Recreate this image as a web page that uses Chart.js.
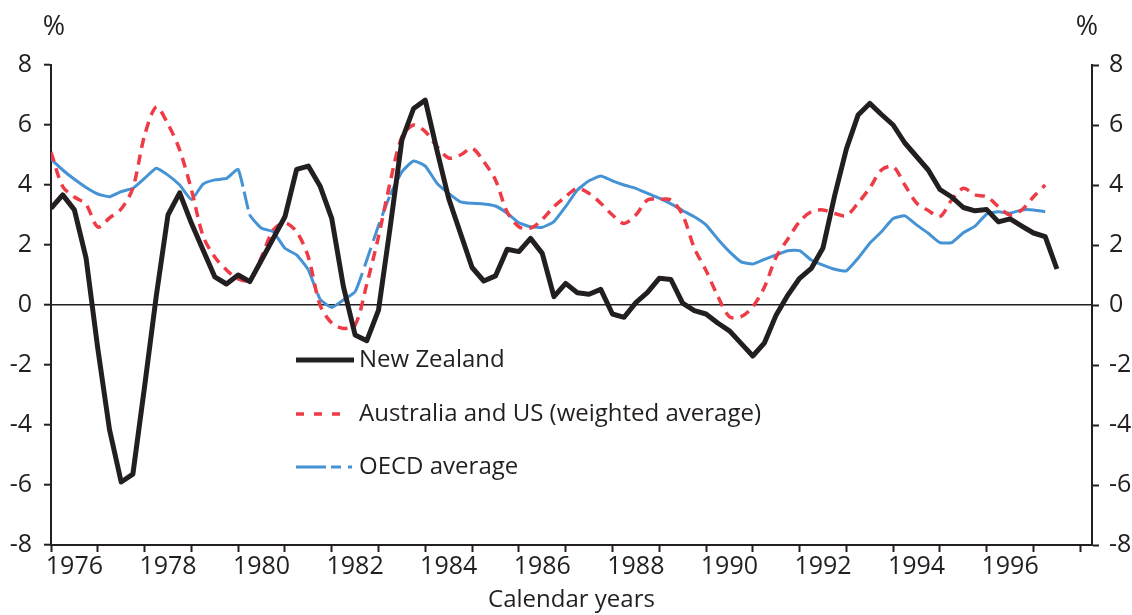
<!DOCTYPE html>
<html><head><meta charset="utf-8">
<script src="https://cdn.jsdelivr.net/npm/chart.js@4"></script>
<style>html,body{margin:0;padding:0;background:#fff;overflow:hidden}#wrap{width:1132px;height:615px}</style>
</head><body><div id="wrap"><canvas id="c" width="1132" height="615"></canvas></div>
<script>
// Quarterly observations starting 1976 Q1 (decimal years)
const firstYear = 1976;
const quarters = [];
for (let i = 0; i < 87; i++) quarters.push(firstYear + i / 4);

const seriesNames = ['New Zealand', 'Australia and US (weighted average)', 'OECD average'];

const nzValues = [
  3.22, 3.67, 3.17, 1.56,
  -1.45, -4.15, -5.9, -5.64,
  -2.72, 0.3, 3.0, 3.74,
  2.73, 1.83, 0.94, 0.7,
  1.0, 0.78, 1.5, 2.22,
  2.94, 4.52, 4.63, 3.97,
  2.89, 0.61, -1.0, -1.19,
  -0.17, 2.6, 5.5, 6.55,
  6.83, 5.15, 3.55, 2.4,
  1.25, 0.8, 0.97, 1.86,
  1.78, 2.22, 1.72, 0.28,
  0.72, 0.41, 0.36, 0.52,
  -0.3, -0.41, 0.08, 0.42,
  0.89, 0.85, 0.06, -0.19,
  -0.3, -0.6, -0.86, -1.28,
  -1.7, -1.26, -0.33, 0.33,
  0.89, 1.22, 1.9, 3.65,
  5.2, 6.33, 6.72, 6.35,
  6.0, 5.4, 4.95, 4.5,
  3.85, 3.6, 3.25, 3.14,
  3.18, 2.77, 2.87, 2.63,
  2.4, 2.28, 1.2
];

const ausUsValues = [
  5.1, 3.95, 3.6, 3.35,
  2.6, 2.9, 3.2, 3.9,
  5.65, 6.6, 6.03, 5.17,
  3.85, 2.3, 1.6, 1.17,
  0.87, 0.83, 1.6, 2.5,
  2.74, 2.44, 1.6, 0.0,
  -0.6, -0.78, -0.67, 0.7,
  2.28, 4.1, 5.6, 6.0,
  5.78, 5.28, 4.9, 5.0,
  5.22, 4.78, 4.17, 3.1,
  2.61, 2.56, 2.85, 3.28,
  3.61, 3.89, 3.72, 3.39,
  3.0, 2.72, 3.0, 3.5,
  3.52, 3.5, 3.0, 1.9,
  1.15, 0.3, -0.39, -0.39,
  -0.06, 0.6, 1.6, 2.2,
  2.78, 3.11, 3.17, 3.05,
  2.98, 3.4, 3.9, 4.5,
  4.61, 4.0, 3.4, 3.15,
  2.95, 3.5, 3.89, 3.67,
  3.61, 3.28, 3.0, 3.17,
  3.61, 4.0
];

const oecdValues = [
  4.86, 4.5, 4.19, 3.92,
  3.7, 3.61, 3.78, 3.89,
  4.22, 4.56, 4.33, 4.0,
  3.52, 4.03, 4.17, 4.22,
  4.52, 3.0, 2.56, 2.44,
  1.89, 1.67, 1.17, 0.2,
  -0.08, 0.17, 0.44, 1.5,
  2.65, 3.67, 4.44, 4.8,
  4.63, 4.06, 3.72, 3.44,
  3.39, 3.37, 3.3, 3.06,
  2.74, 2.61, 2.59, 2.78,
  3.28, 3.83, 4.14, 4.3,
  4.14, 4.0, 3.89, 3.72,
  3.56, 3.37, 3.15, 2.94,
  2.67, 2.2, 1.78, 1.44,
  1.37, 1.52, 1.67, 1.81,
  1.81, 1.5, 1.33, 1.19,
  1.14, 1.56, 2.06, 2.44,
  2.88, 2.97, 2.67, 2.39,
  2.08, 2.08, 2.41, 2.63,
  3.03, 3.11, 3.06, 3.17,
  3.17, 3.11
];

const yearTicks = [1976,1977,1978,1979,1980,1981,1982,1983,1984,1985,1986,1987,1988,1989,1990,1991,1992,1993,1994,1995,1996,1997,1998];
const yearLabels = [1976,1978,1980,1982,1984,1986,1988,1990,1992,1994,1996];
const yMin = -8, yMax = 8, yStep = 2;
const xAxisTitle = 'Calendar years';
const unitLabel = '%';

const INK = '#231f20';
const RED = '#ee3b46';
const BLUE = '#4592d4';
const FONT = "'Open Sans', 'DejaVu Sans', sans-serif";

const toPoints = vals => vals.map((v, i) => ({x: quarters[i], y: v}));

// dashed stretches of the OECD line as printed
const oecdDashed = [[1980.0, 1980.25, [18, 5]], [1981.5, 1981.75, [20, 5]], [1982.5, 1983.25, [20, 7]]];

const extras = {
  id: 'extras',
  afterDraw(chart) {
    const ctx = chart.ctx;
    ctx.save();
    ctx.fillStyle = INK;
    ctx.font = `400 27px ${FONT}`;
    ctx.textBaseline = 'middle';
    ctx.textAlign = 'center';
    ctx.fillText(unitLabel, 54, 27);
    ctx.fillText(unitLabel, 1087, 27);
    // legend
    const x0 = 296, x1 = 354, tx = 359;
    const rows = [360, 414, 467];
    ctx.textAlign = 'left';
    ctx.font = `400 24px ${FONT}`;
    chart.data.datasets.forEach((ds, i) => {
      const y = rows[i];
      ctx.beginPath();
      ctx.strokeStyle = ds.borderColor;
      ctx.lineWidth = ds.borderWidth;
      ctx.lineCap = 'butt';
      if (i === 1) ctx.setLineDash([8, 10]);
      else if (i === 2) ctx.setLineDash([30, 5, 10, 7, 4, 40]);
      else ctx.setLineDash([]);
      ctx.moveTo(x0, y);
      ctx.lineTo(i === 1 ? 342 : (i === 2 ? 353 : x1), y);
      ctx.stroke();
      ctx.setLineDash([]);
      ctx.fillStyle = INK;
      ctx.fillText(ds.label, tx, y);
    });
    ctx.restore();
  }
};

new Chart(document.getElementById('c'), {
  type: 'line',
  data: {
    datasets: [
      { label: seriesNames[0], data: toPoints(nzValues), borderColor: INK, borderWidth: 5, tension: 0, pointRadius: 0, borderJoinStyle: 'round', order: 0 },
      { label: seriesNames[1], data: toPoints(ausUsValues), borderColor: RED, borderWidth: 3.5, borderDash: [10, 7], tension: 0.3, pointRadius: 0, order: 1 },
      { label: seriesNames[2], data: toPoints(oecdValues), borderColor: BLUE, borderWidth: 3, tension: 0.15, pointRadius: 0, order: 2,
        segment: { borderDash: c => { const x = c.p0.parsed.x; for (const d of oecdDashed) { if (x >= d[0] && x < d[1]) return d[2]; } return undefined; } } }
    ]
  },
  options: {
    responsive: false,
    animation: false,
    devicePixelRatio: 1,
    layout: { padding: { top: 65, left: 0, right: 0, bottom: 0 } },
    plugins: { legend: { display: false }, tooltip: { enabled: false } },
    scales: {
      x: {
        type: 'linear', position: 'bottom', min: firstYear, max: 1998.25,
        afterBuildTicks: s => {
          const t = yearTicks.map(v => ({value: v}));
          yearLabels.forEach(v => t.push({value: v + 0.5}));
          t.sort((a, b) => a.value - b.value);
          s.ticks = t;
        },
        afterFit: s => { s.height = 70; },
        grid: { drawOnChartArea: false, tickLength: 7, tickWidth: 2,
          tickColor: c => (c.tick && Number.isInteger(c.tick.value)) ? INK : 'rgba(0,0,0,0)' },
        border: { display: true, color: INK, width: 2 },
        ticks: { autoSkip: false, maxRotation: 0, minRotation: 0, padding: 0, color: INK,
          font: { family: FONT, size: 25, weight: 400 },
          callback: v => (Number.isInteger(v) ? '' : String(Math.floor(v))) },
        title: { display: true, text: xAxisTitle, color: INK, font: { family: FONT, size: 24, weight: 400, lineHeight: 1.2 }, padding: { top: 0, bottom: 0 } }
      },
      y: {
        type: 'linear', position: 'left', min: yMin, max: yMax,
        afterFit: s => { s.width = 51; },
        ticks: { stepSize: yStep, padding: 12, color: INK, font: { family: FONT, size: 25, weight: 400 } },
        grid: { drawOnChartArea: true, tickLength: 7, tickWidth: 2, tickColor: INK,
          color: c => (c.tick && c.tick.value === 0) ? INK : 'rgba(0,0,0,0)', lineWidth: 1.4 },
        border: { display: true, color: INK, width: 2 }
      },
      y2: {
        type: 'linear', position: 'right', min: yMin, max: yMax,
        afterFit: s => { s.width = 40; },
        ticks: { stepSize: yStep, padding: 10, color: INK, font: { family: FONT, size: 25, weight: 400 } },
        grid: { drawOnChartArea: false, tickLength: 7, tickWidth: 2, tickColor: INK },
        border: { display: true, color: INK, width: 2 }
      }
    }
  },
  plugins: [extras]
});
</script></body></html>
